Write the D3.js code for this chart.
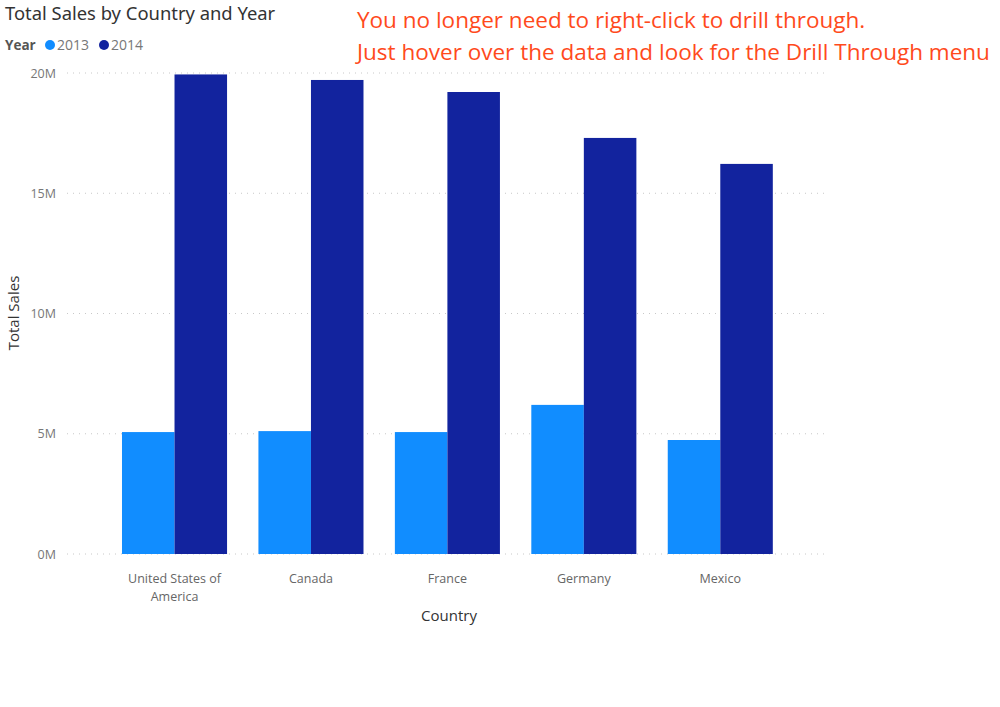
<!DOCTYPE html>
<html><head><meta charset="utf-8">
<script src="https://cdn.jsdelivr.net/npm/d3@7/dist/d3.min.js"></script>
<style>body{margin:0;background:#fff;}svg{display:block;font-family:"Open Sans","Noto Sans",sans-serif;}</style>
</head><body><svg id="c" width="1000" height="707"></svg>
<script>
const countries = ["United States of America","Canada","France","Germany","Mexico"];
const years = ["2013","2014"];
const sales2013 = [5.07, 5.11, 5.07, 6.20, 4.74];
const sales2014 = [19.94, 19.71, 19.21, 17.30, 16.22];
const yTicks = [0, 5, 10, 15, 20];
const colors = ["#118DFF", "#12239E"];

const svg = d3.select("#c");
const y = d3.scaleLinear().domain([0, 20]).range([554, 73]);
const x0 = d3.scaleBand().domain(countries).range([106.3, 788.5]).paddingInner(0.23).paddingOuter(0.115);
const x1 = d3.scaleBand().domain(years).range([0, x0.bandwidth()]);

// gridlines
svg.append("g").selectAll("line").data(yTicks).join("line")
  .attr("x1", 67).attr("x2", 828).attr("y1", d => y(d*1)).attr("y2", d => y(d*1))
  .attr("stroke", "#c8c8c8").attr("stroke-width", 1).attr("stroke-dasharray", "1,5");

// y axis labels
const yAxis = d3.axisLeft(y).tickValues(yTicks).tickFormat(d => d + "M").tickSize(0).tickPadding(0);
const ya = svg.append("g").attr("transform", "translate(56,0)").call(yAxis);
ya.select(".domain").remove();
ya.selectAll("text").attr("fill", "#777").attr("font-size", 12.5).attr("font-family", "Open Sans, sans-serif");

// bars
const data = countries.map((c, i) => ({c, vals: [sales2013[i], sales2014[i]]}));
const g = svg.append("g");
data.forEach(d => {
  g.selectAll(null).data(d.vals).join("rect")
    .attr("x", (v, j) => x0(d.c) + x1(years[j]))
    .attr("width", x1.bandwidth())
    .attr("y", v => y(v))
    .attr("height", v => y(0) - y(v))
    .attr("fill", (v, j) => colors[j]);
});

// x axis labels
const xAxis = d3.axisBottom(x0).tickSize(0).tickPadding(0);
const xa = svg.append("g").attr("transform", "translate(0,583)").call(xAxis);
xa.select(".domain").remove();
xa.selectAll("text").attr("fill", "#666").attr("font-size", 12.5).attr("font-family", "Open Sans, sans-serif")
  .attr("dy", 0)
  .each(function(d) {
    const t = d3.select(this);
    if (d === "United States of America") {
      t.text(null);
      t.append("tspan").attr("x", 0).attr("dy", 0).text("United States of");
      t.append("tspan").attr("x", 0).attr("dy", 18).text("America");
    }
  });

// axis titles
svg.append("text").attr("x", 449).attr("y", 621).attr("text-anchor", "middle")
  .attr("font-size", 15).attr("fill", "#333").text("Country");
svg.append("text").attr("transform", "translate(19,313) rotate(-90)").attr("text-anchor", "middle")
  .attr("font-size", 15).attr("fill", "#333").text("Total Sales");

// title
svg.append("text").attr("x", 5).attr("y", 20).attr("font-size", 18.4).attr("fill", "#333")
  .attr("font-family", "Noto Sans, sans-serif").text("Total Sales by Country and Year");

// legend
svg.append("text").attr("x", 5).attr("y", 50).attr("font-size", 13.5).attr("font-weight", "bold").attr("fill", "#555").text("Year");
const leg = svg.append("g");
const legX = [50, 104];
years.forEach((yr, i) => {
  leg.append("circle").attr("cx", legX[i]).attr("cy", 45).attr("r", 5).attr("fill", colors[i]);
  leg.append("text").attr("x", legX[i] + 7).attr("y", 50).attr("font-size", 14).attr("fill", "#777").text(yr);
});

// annotation
const ann = ["You no longer need to right-click to drill through.", "Just hover over the data and look for the Drill Through menu"];
svg.append("g").selectAll("text").data(ann).join("text")
  .attr("x", 357).attr("y", (d, i) => 28 + i*32).attr("font-size", 22.5).attr("fill", "#FF4A1C").text(d => d);
</script></body></html>
